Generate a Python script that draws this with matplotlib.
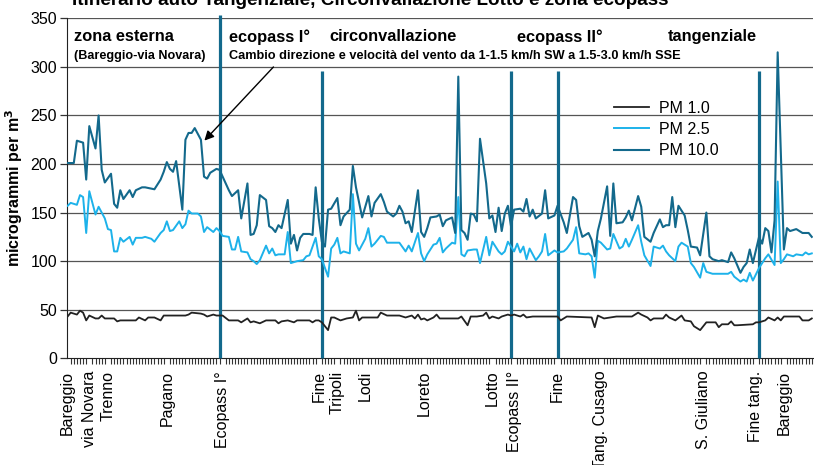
import matplotlib
matplotlib.use("Agg")
import matplotlib.pyplot as plt
from matplotlib.ticker import MultipleLocator
import numpy as np

plt.rcParams['font.family'] = ['Liberation Sans', 'DejaVu Sans']

# ---- data (sample index along the route, µg/m3) ----
pm10_x = [0,1,2,3,5,6,7,9,10,11,12,14,15,16,17,18,20,21,22,24,25,28,30,31,32,33,34,35,37,38,39,40,41,43,44,45,46,48,49,50,
          52,53,55,56,58,59,60,61,62,64,65,66,67,68,69,71,72,73,74,75,76,78,79,80,81,82,83,84,85,87,88,89,91,92,93,95,96,97,98,99,
          101,102,103,105,106,107,108,109,110,111,113,114,115,116,117,119,120,121,122,124,125,126,127,128,129,130,131,132,133,135,
          136,137,138,139,140,141,142,143,144,146,147,148,149,150,151,153,154,155,157,158,160,161,163,164,165,166,168,169,170,171,
          172,174,175,176,177,179,180,181,182,184,185,186,188,189,191,192,193,194,195,196,197,199,200,201,203,204,206,207,208,210,
          211,213,214,215,217,218,219,220,221,223,224,225,226,227,228,229,231,232,233,235,236,237,239,240]
pm10_y = [201,201,201,224,222,184,239,216,250,194,181,190,159,155,173,164,173,166,173,176,176,174,184,192,202,195,192,203,153,225,232,232,237,225,187,185,191,195,194,187,
          173,167,173,144,180,127,128,137,168,163,136,134,130,137,134,163,118,127,111,124,128,128,127,176,144,120,115,153,154,165,137,146,153,198,176,145,156,167,146,160,
          169,161,151,146,149,157,151,139,141,130,173,130,125,134,145,146,148,136,142,145,129,290,132,129,122,149,148,141,226,180,
          144,147,130,155,131,149,157,136,153,154,151,164,146,153,144,149,173,144,147,157,140,129,166,163,136,125,129,122,105,131,
          144,177,126,180,139,140,145,152,142,167,156,125,120,129,143,135,137,137,166,135,157,147,132,115,114,106,150,105,102,100,
          101,99,109,103,88,94,98,112,98,125,118,134,131,109,142,315,112,134,131,133,131,129,129,125]

pm25_x = [0,1,2,3,4,5,6,7,9,10,12,13,14,15,16,17,18,20,21,22,24,25,27,28,30,31,32,33,34,36,37,38,39,40,42,43,44,45,47,48,
          49,50,52,53,54,55,56,58,59,60,61,62,64,65,66,67,68,70,71,72,73,74,76,77,78,80,81,82,84,85,86,87,88,89,91,92,93,94,96,97,
          98,99,101,102,103,105,106,107,109,110,111,113,114,115,116,118,119,120,121,122,124,125,126,127,128,129,131,132,133,135,136,137,139,140,
          141,142,144,145,146,147,148,149,151,152,153,154,155,157,158,160,161,163,164,165,167,168,169,170,171,172,174,175,176,178,
          179,180,181,182,184,185,186,188,189,191,192,193,194,196,197,198,200,201,202,204,205,206,208,209,211,213,214,215,217,218,
          219,220,221,223,224,225,226,228,229,230,231,232,234,235,237,238,239,240]
pm25_y = [157,160,159,158,168,166,129,172,148,156,144,133,132,110,110,124,120,125,117,124,124,125,123,120,129,132,141,131,132,141,134,138,152,149,149,146,130,135,130,134,
          131,126,125,112,112,125,110,109,102,100,97,101,116,108,113,106,107,107,130,98,99,100,101,105,106,124,105,102,84,113,117,124,108,110,108,169,118,111,123,134,
          115,118,126,125,119,119,119,119,110,116,110,129,108,100,107,117,118,124,109,113,119,118,166,107,105,111,112,112,98,125,106,120,110,107,
          110,120,110,118,109,115,102,113,101,105,110,128,106,111,109,110,113,122,135,108,107,108,105,83,121,119,112,113,128,113,
          115,123,115,122,137,120,106,95,115,113,116,110,106,100,115,119,115,98,94,83,98,89,87,87,87,87,89,84,79,81,
          79,88,80,93,98,103,107,96,182,98,102,107,105,107,106,109,107,108]

pm1_x = [0,1,2,3,4,5,6,7,9,10,11,12,15,16,17,22,23,25,26,28,30,31,38,39,40,43,44,45,47,48,50,52,55,56,58,59,60,62,64,67,
         68,69,71,72,73,74,78,79,80,81,82,84,85,86,88,90,92,93,94,95,100,101,103,107,109,111,112,113,114,115,116,118,119,120,
         126,127,129,130,132,134,135,136,137,139,140,142,143,144,146,147,148,150,158,159,161,169,170,171,173,175,177,182,184,185,
         187,188,189,192,193,194,196,198,199,201,202,204,206,209,210,211,213,214,215,216,221,222,223,225,226,228,229,230,231,236,
         237,239,240]
pm1_y = [43,47,46,45,49,47,39,44,41,41,44,41,41,38,39,39,42,39,42,42,39,44,44,45,47,46,45,43,45,44,44,39,39,37,41,37,38,36,39,39,
         36,38,39,38,37,39,39,37,39,39,37,29,42,42,39,41,42,49,39,42,42,47,44,44,42,44,41,45,40,41,39,42,45,41,
         41,43,34,43,43,44,47,41,43,41,43,45,44,45,43,45,42,43,43,39,43,42,32,44,41,42,43,43,47,45,
         42,39,41,41,45,42,39,44,39,38,33,29,37,37,32,35,35,38,34,34,35,37,37,39,42,39,42,39,43,43,
         39,39,41]

# section markers (vertical lines) and their top value
marker_x = [49, 82, 143, 158, 223]
marker_top = [353, 296, 296, 296, 296]

# x-axis place names
place_pos = [0, 7, 13, 32, 50, 81, 87, 96, 115, 137, 144, 158, 172, 205, 222, 231]
place_names = ["Bareggio", "via Novara", "Trenno", "Pagano", "Ecopass I°", "Fine", "Tripoli", "Lodi",
               "Loreto", "Lotto", "Ecopass II°", "Fine", "Tang. Cusago", "S. Giuliano", "Fine tang.", "Bareggio"]

yticks = [0, 50, 100, 150, 200, 250, 300, 350]

C10 = '#13698c'
C25 = '#1db2ea'
C1 = '#222222'

fig = plt.figure(figsize=(8.14, 4.65), dpi=100)
ax = fig.add_axes([0.0819, 0.2295, 0.9169, 0.7311])

ax.set_xlim(-0.3, 240.4)
ax.set_ylim(0, 350)

for yv in yticks[1:]:
    ax.axhline(yv, color='#555555', lw=0.9, zorder=1)

ax.vlines(marker_x, 0, marker_top, colors=C10, lw=2.3, zorder=3, clip_on=False)

ax.plot(pm1_x, pm1_y, color=C1, lw=1.3, label='PM 1.0', zorder=4)
ax.plot(pm25_x, pm25_y, color=C25, lw=1.4, label='PM 2.5', zorder=4)
ax.plot(pm10_x, pm10_y, color=C10, lw=1.5, label='PM 10.0', zorder=5)

ax.set_yticks(yticks)
ax.set_yticklabels([str(v) for v in yticks], fontsize=11.5)
ax.tick_params(axis='y', length=5, width=0.9, color='#333333', pad=2)

ax.set_xticks(place_pos)
ax.set_xticklabels(place_names, rotation=90, fontsize=11.5, va='top', ha='center')
ax.xaxis.set_minor_locator(MultipleLocator(1))
ax.tick_params(axis='x', which='major', length=0, pad=9)
ax.tick_params(axis='x', which='minor', length=4, width=0.8, color='#333333')

for s in ['top', 'right']:
    ax.spines[s].set_visible(False)
ax.spines['left'].set_color('#222222')
ax.spines['bottom'].set_color('#222222')

ax.set_ylabel(r'microgrammi per m$^{\mathbf{3}}$', fontsize=11.5, fontweight='bold', labelpad=4)

leg = ax.legend(loc='upper left', bbox_to_anchor=(0.714, 0.80), frameon=False, fontsize=11.5,
                handlelength=2.2, handletextpad=0.6, labelspacing=0.4)

# section headings
ax.text(2, 331, 'zona esterna', fontsize=11.8, fontweight='bold', va='center', ha='left')
ax.text(2, 311, '(Bareggio-via Novara)', fontsize=9.1, fontweight='bold', va='center', ha='left')
ax.text(52, 331, 'ecopass I°', fontsize=11.8, fontweight='bold', va='center', ha='left')
ax.text(84.5, 331, 'circonvallazione', fontsize=11.8, fontweight='bold', va='center', ha='left')
ax.text(145, 331, 'ecopass II°', fontsize=11.8, fontweight='bold', va='center', ha='left')
ax.text(193.5, 331, 'tangenziale', fontsize=11.8, fontweight='bold', va='center', ha='left')
ax.text(52, 311, 'Cambio direzione e velocità del vento da 1-1.5 km/h SW a 1.5-3.0 km/h SSE',
        fontsize=9.2, fontweight='bold', va='center', ha='left')

ax.annotate('', xy=(43.5, 222), xytext=(67, 302),
            arrowprops=dict(arrowstyle='-|>', color='black', lw=1.0, mutation_scale=14))

fig.text(370/814, 1 - 5/465, 'Itinerario auto Tangenziale, Circonvallazione Lotto e zona ecopass',
         fontsize=13.6, fontweight='bold', ha='center', va='baseline')

fig.savefig('out.png', dpi=100)
